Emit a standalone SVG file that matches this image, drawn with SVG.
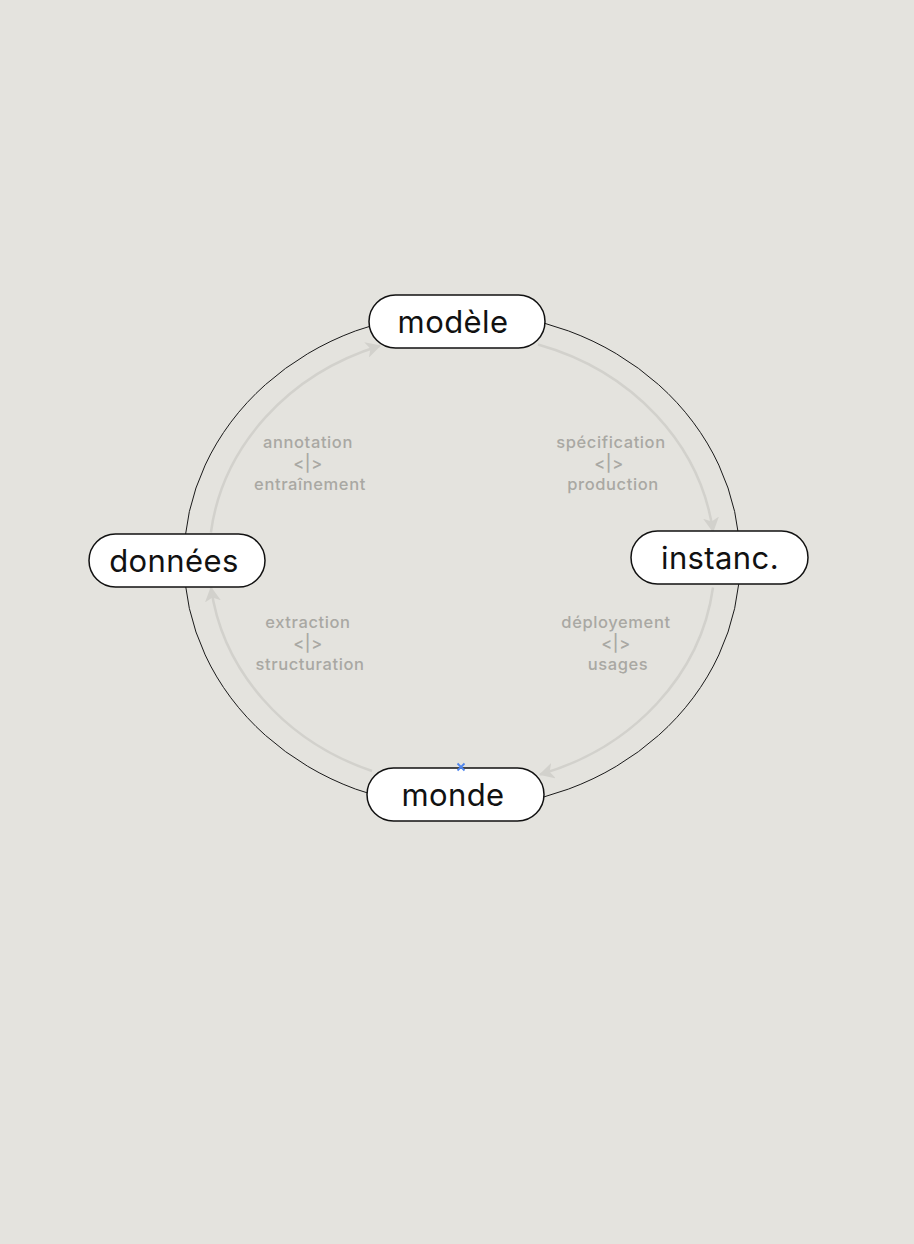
<svg xmlns="http://www.w3.org/2000/svg" width="914" height="1244" viewBox="0 0 914 1244">
<style>
.bg{fill:#e4e3de}
.ring{fill:none;stroke:#1a1a1a;stroke-width:1}
.flow{fill:none;stroke:#d2d1cc;stroke-width:2.5}
.node rect{fill:#ffffff;stroke:#111111;stroke-width:1.5}
.node text{font-family:Inter,"Liberation Sans",sans-serif;font-size:31px;fill:#111111;text-anchor:middle;dominant-baseline:central;letter-spacing:0.4px}
.lbl{font-family:Inter,"Liberation Sans",sans-serif;font-size:16.5px;font-weight:500;letter-spacing:0.6px;fill:#a9a8a3;text-anchor:middle;dominant-baseline:central}
</style>
<defs>
<marker id="ah" markerUnits="userSpaceOnUse" markerWidth="16" markerHeight="16" refX="14" refY="8" orient="auto" viewBox="0 0 16 16">
<path d="M0,0 L15,8 L0,16 L4,8 Z" fill="#d2d1cc"/>
</marker>
</defs>
<rect class="bg" x="0" y="0" width="914" height="1244"/>
<ellipse class="ring" cx="462" cy="560" rx="278" ry="248"/>
<g id="connectors">
<path class="flow" d="M210.9,532.5 A253,226 0 0 1 380,345.8" marker-end="url(#ah)"/>
<path class="flow" d="M538,344.5 A253,226 0 0 1 713,531.5" marker-end="url(#ah)"/>
<path class="flow" d="M713,587.5 A253,226 0 0 1 540,774.5" marker-end="url(#ah)"/>
<path class="flow" d="M372,771 A253,226 0 0 1 211,587.5" marker-end="url(#ah)"/>
</g>
<g id="labels">
<text class="lbl" x="308" y="442">annotation</text>
<text class="lbl" x="308" y="463">&lt;|&gt;</text>
<text class="lbl" x="310" y="484">entraînement</text>
<text class="lbl" x="611" y="442">spécification</text>
<text class="lbl" x="609" y="463">&lt;|&gt;</text>
<text class="lbl" x="613" y="484">production</text>
<text class="lbl" x="308" y="622">extraction</text>
<text class="lbl" x="308" y="643">&lt;|&gt;</text>
<text class="lbl" x="310" y="664">structuration</text>
<text class="lbl" x="616" y="622">déployement</text>
<text class="lbl" x="616" y="643">&lt;|&gt;</text>
<text class="lbl" x="618" y="664">usages</text>
</g>
<g id="node-modele" class="node">
<rect x="369" y="295" width="176" height="53" rx="26.5"/>
<text x="453" y="321">modèle</text>
</g>
<g id="node-instanc" class="node">
<rect x="631" y="531" width="177" height="53" rx="26.5"/>
<text x="720" y="557">instanc.</text>
</g>
<g id="node-donnees" class="node">
<rect x="89" y="534" width="176" height="53" rx="26.5"/>
<text x="174" y="560">données</text>
</g>
<g id="node-monde" class="node">
<rect x="367" y="768" width="177" height="53" rx="26.5"/>
<text x="453" y="794">monde</text>
</g>
<g id="marker-x" stroke="#4f86ee" stroke-width="1.8">
<line x1="457.5" y1="763.5" x2="464.5" y2="770.5"/>
<line x1="464.5" y1="763.5" x2="457.5" y2="770.5"/>
</g>
</svg>
